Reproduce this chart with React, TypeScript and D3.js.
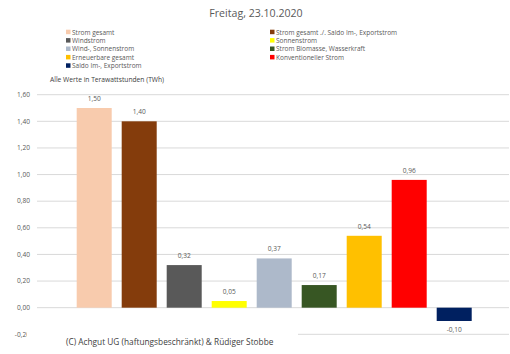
import { useEffect, useRef } from "react"
import * as d3 from "d3"

const categories = [
  "Strom gesamt",
  "Strom gesamt ./. Saldo Im-, Exportstrom",
  "Windstrom",
  "Sonnenstrom",
  "Wind-, Sonnenstrom",
  "Strom Biomasse, Wasserkraft",
  "Erneuerbare gesamt",
  "Konventioneller Strom",
  "Saldo Im-, Exportstrom",
]
const values = [1.5, 1.4, 0.32, 0.05, 0.37, 0.17, 0.54, 0.96, -0.1]
const colors = ["#F8CBAD", "#843C0C", "#595959", "#FFFF00", "#ADB9CA", "#375623", "#FFC000", "#FF0000", "#002060"]
const yTicks = [-0.2, 0, 0.2, 0.4, 0.6, 0.8, 1.0, 1.2, 1.4, 1.6]
// legend order as shown: two columns
const legendLeft = [0, 2, 4, 6, 8]
const legendRight = [1, 3, 5, 7]

const W = 510
const H = 354
const FONT = "'Open Sans', sans-serif"
const GREY = "#595959"

const fmt = (v: number) => v.toFixed(2).replace(".", ",")

export default function App() {
  const svgRef = useRef<SVGSVGElement>(null)

  useEffect(() => {
    if (!svgRef.current) return
    const svg = d3.select(svgRef.current)
    svg.selectAll("*").remove()

    const x = d3.scaleBand().domain(categories).range([71.7, 476.7]).paddingInner(0.222).paddingOuter(0.111)
    const y = d3.scaleLinear().domain([-0.2, 1.6]).range([334.3, 94.7])

    svg.append("rect").attr("width", W).attr("height", H).attr("fill", "#fff")

    // title
    svg
      .append("text")
      .attr("x", 256)
      .attr("y", 13.5)
      .attr("dy", "0.35em")
      .attr("text-anchor", "middle")
      .style("font-family", FONT)
      .style("font-size", "10.6px")
      .attr("fill", GREY)
      .text("Freitag, 23.10.2020")

    // legend
    const addLegend = (idxs: number[], x0: number) => {
      idxs.forEach((ci, row) => {
        const yy = 32.3 + row * 8.4
        svg.append("rect").attr("x", x0).attr("y", yy - 2.6).attr("width", 4.5).attr("height", 4.5).attr("fill", colors[ci])
        svg
          .append("text")
          .attr("x", x0 + 6)
          .attr("y", yy)
          .attr("dy", "0.35em")
          .style("font-family", FONT)
          .style("font-size", "6.5px")
          .attr("fill", GREY)
          .text(categories[ci])
      })
    }
    addLegend(legendLeft, 66)
    addLegend(legendRight, 270)

    svg
      .append("text")
      .attr("x", 50)
      .attr("y", 80)
      .attr("dy", "0.35em")
      .style("font-family", FONT)
      .style("font-size", "6.7px")
      .attr("fill", "#404040")
      .text("Alle Werte in Terawattstunden (TWh)")

    // gridlines
    svg
      .append("g")
      .selectAll("line")
      .data(yTicks)
      .enter()
      .append("line")
      .attr("x1", 37)
      .attr("x2", 509)
      .attr("y1", (d) => y(d))
      .attr("y2", (d) => y(d))
      .attr("stroke", "#D9D9D9")
      .attr("stroke-width", 1)

    // y labels
    svg
      .append("g")
      .selectAll("text")
      .data(yTicks)
      .enter()
      .append("text")
      .attr("x", 30)
      .attr("y", (d) => y(d))
      .attr("dy", "0.35em")
      .attr("text-anchor", "end")
      .style("font-family", FONT)
      .style("font-size", "6.6px")
      .attr("fill", GREY)
      .text((d) => fmt(d))

    // bars
    svg
      .append("g")
      .selectAll("rect")
      .data(values)
      .enter()
      .append("rect")
      .attr("x", (_, i) => x(categories[i]) || 0)
      .attr("y", (d) => y(Math.max(0, d)))
      .attr("width", x.bandwidth())
      .attr("height", (d) => Math.abs(y(d) - y(0)))
      .attr("fill", (_, i) => colors[i])

    // value labels
    svg
      .append("g")
      .selectAll("text")
      .data(values)
      .enter()
      .append("text")
      .attr("x", (_, i) => (x(categories[i]) || 0) + x.bandwidth() / 2)
      .attr("y", (d) => (d >= 0 ? y(d) - 9.5 : y(d) + 9))
      .attr("dy", "0.35em")
      .attr("text-anchor", "middle")
      .style("font-family", FONT)
      .style("font-size", "6.6px")
      .attr("fill", GREY)
      .text((d) => fmt(d))

    // copyright box covering bottom-left
    svg.append("rect").attr("x", 27).attr("y", 331).attr("width", 271).attr("height", 23).attr("fill", "#fff")
    svg
      .append("text")
      .attr("x", 66)
      .attr("y", 342.3)
      .attr("dy", "0.35em")
      .style("font-family", FONT)
      .style("font-size", "8.3px")
      .attr("fill", "#404040")
      .text("(C) Achgut UG (haftungsbeschränkt) & Rüdiger Stobbe")
  }, [])

  return (
    <svg
      ref={svgRef}
      width={W}
      height={H}
      style={{ position: "absolute", left: 0, top: 0, display: "block" }}
    />
  )
}
